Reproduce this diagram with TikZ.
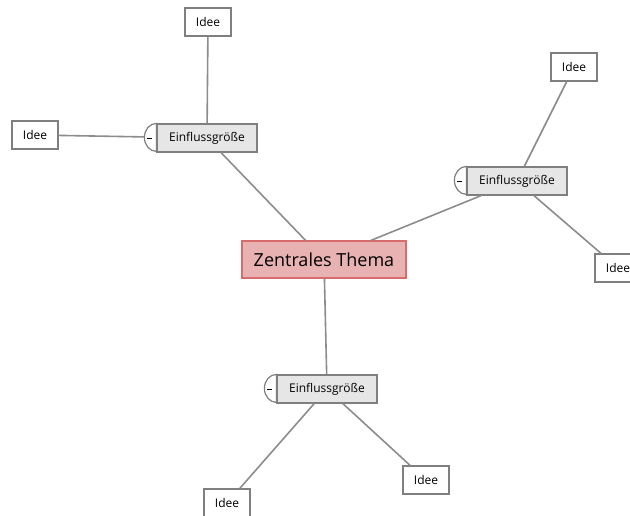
\documentclass[tikz,border=0pt]{standalone}
\usepackage{fontspec}
\setmainfont{Open Sans}
\usepackage{tikz}
\definecolor{themafill}{HTML}{E8B2B2}
\definecolor{themadraw}{HTML}{D86C6C}
\definecolor{einfill}{HTML}{E6E6E6}
\definecolor{boxdraw}{HTML}{7F7F7F}
\definecolor{linegray}{HTML}{8C8C8C}
\tikzset{
  thema/.style={draw=themadraw, fill=themafill, line width=1.2pt, minimum width=164pt, minimum height=37pt, inner sep=0pt, font=\fontsize{18}{21}\selectfont},
  einfluss/.style={draw=boxdraw, fill=einfill, line width=1.2pt, minimum width=100pt, minimum height=28pt, inner sep=0pt, font=\fontsize{12}{14}\selectfont},
  idee/.style={draw=boxdraw, fill=white, line width=1.2pt, minimum width=46pt, minimum height=28pt, inner sep=0pt, font=\fontsize{12}{14}\selectfont},
  ast/.style={linegray, line width=1.6pt}
}
\newcommand{\knopf}[1]{%
  \draw[boxdraw, fill=white, line width=1.2pt] (#1.north west) arc[start angle=90, end angle=270, x radius=12pt, y radius=14pt] -- cycle;
  \draw[black, line width=0.8pt] ([xshift=-9pt]#1.west) -- ([xshift=-4pt]#1.west);
}
\begin{document}
\begin{tikzpicture}[x=1pt, y=-1pt]
\useasboundingbox (0,0) rectangle (630,515);
\node[thema] (zt) at (324,259.5) {Zentrales Thema};
\node[einfluss] (e1) at (207,138) {Einflussgröße};
\node[einfluss] (e2) at (517,181) {Einflussgröße};
\node[einfluss] (e3) at (327,389) {Einflussgröße};
\node[idee] (i1) at (208,22) {Idee};
\node[idee] (i2) at (35,135) {Idee};
\node[idee] (i3) at (574,67) {Idee};
\node[idee] (i4) at (618,268) {Idee};
\node[idee] (i5) at (227,503) {Idee};
\node[idee] (i6) at (426,480) {Idee};
\draw [ast] (zt) -- (e1);
\draw [ast] (zt) -- (e2);
\draw [ast] (zt) -- (e3);
\draw [ast] (e1) -- (i1);
\draw [ast] (e1) -- (i2);
\draw [ast] (e2) -- (i3);
\draw [ast] (e2) -- (i4);
\draw [ast] (e3) -- (i5);
\draw [ast] (e3) -- (i6);
\knopf{e1}
\knopf{e2}
\knopf{e3}
\end{tikzpicture}
\end{document}
